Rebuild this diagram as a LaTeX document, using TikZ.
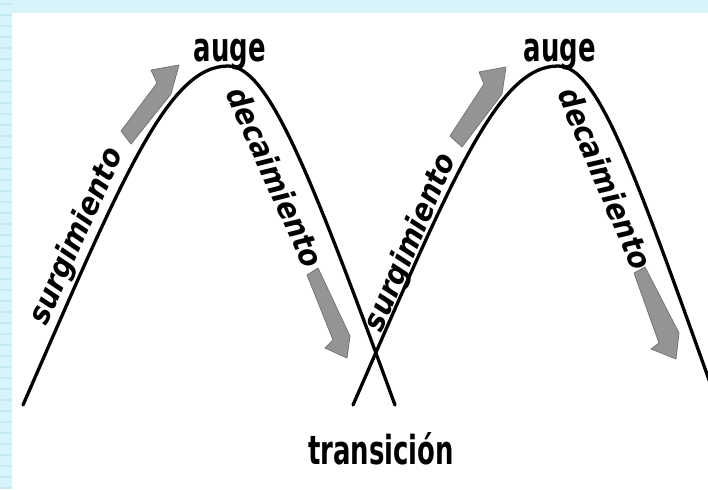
\documentclass[tikz,border=0pt]{standalone}
\usepackage{fontspec}
\setmainfont{DejaVu Sans Condensed}
\usepackage{graphicx}
\definecolor{frameblue}{HTML}{D6F4FA}
\definecolor{stripeblue}{HTML}{C6EAF3}
\definecolor{arrowgray}{HTML}{949494}
\newcommand{\squeeze}[1]{\scalebox{0.72}[1]{#1}}

\begin{document}
\begin{tikzpicture}[x=1pt, y=-1pt,
    wave/.style={line width=3.3pt, line cap=round},
    peak/.style={font=\fontsize{40}{40}\selectfont\bfseries, anchor=base, inner sep=0pt},
    phase/.style={font=\fontsize{31}{31}\selectfont\bfseries\itshape, inner sep=0pt, anchor=base},
    push/.style={fill=arrowgray, draw=arrowgray!80!black, line width=0.8pt, line join=round}
]
\useasboundingbox (0,0) rectangle (708,489);
\clip (0,0) rectangle (708,489);
% frame
\fill[frameblue] (0,0) rectangle (708,489);
\foreach \y in {4,15,...,489} \draw[stripeblue, line width=2pt] (0,\y) -- (12,\y);
\fill[white] (12,13) rectangle (708,489);

% first cycle
\draw[wave] (23,405) .. controls (123,176) and (168,66) .. (228,66)
    .. controls (268,66) and (309,170) .. (395,405);
\draw[push] (121,131) -- (157,83) -- (151,70) -- (179,65) -- (171,94) -- (131,144) -- cycle;
\draw[push] (307,275) -- (333,340) -- (325,348) -- (347,358) -- (350,336) -- (318,268) -- cycle;
\node[phase, rotate=66] (surg1) at (85,240) {surgimiento};
\node[phase, rotate=-66] (decai1) at (265,182) {decaimiento};
\node[peak] (auge1) at (230,62) {\squeeze{auge}};

% second cycle
\draw[wave] (353,405) .. controls (453,176) and (498,66) .. (558,66)
    .. controls (598,66) and (634,170) .. (718,405);
\draw[push] (450,136) -- (484,84) -- (479,72) -- (506,67) -- (502,94) -- (462,147) -- cycle;
\draw[push] (634,273) -- (659,343) -- (651,349) -- (676,359) -- (679,333) -- (645,267) -- cycle;
\node[phase, rotate=67] (surg2) at (419,246) {surgimiento};
\node[phase, rotate=-67] (decai2) at (595,183) {decaimiento};
\node[peak] (auge2) at (560,62) {\squeeze{auge}};

\node[peak] (trans) at (381,464) {\squeeze{transición}};
\end{tikzpicture}
\end{document}
